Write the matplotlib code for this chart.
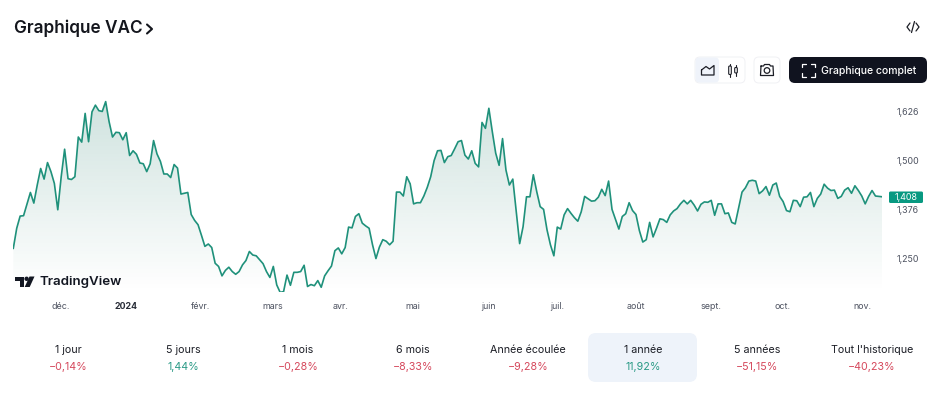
import numpy as np
import matplotlib
matplotlib.use("Agg")
import matplotlib.pyplot as plt
from matplotlib.patches import FancyBboxPatch, PathPatch, Polygon, Circle, Rectangle
from matplotlib.path import Path

plt.rcParams['font.family'] = ['Inter', 'DejaVu Sans']

W, H = 945, 393

prices = [
1277,1328,1359,1360,1390,1419,1392,1438,1480,1453,1495,1472,1442,1375,1459,1529,1454,1452,1459,1560,
1547,1620,1548,1624,1641,1627,1625,1650,1599,1560,1572,1571,1553,1571,1513,1525,1516,1494,1492,1472,
1492,1551,1517,1498,1466,1466,1457,1490,1481,1415,1417,1419,1363,1348,1337,1310,1282,1288,1279,1239,
1231,1207,1221,1229,1218,1211,1218,1235,1246,1269,1260,1258,1248,1238,1218,1203,1231,1184,1165,1167,
1209,1183,1216,1216,1218,1234,1180,1185,1182,1195,
1178,1207,1220,1232,1271,1278,1263,1279,1331,1329,1358,1365,1341,1334,1328,1286,1251,1280,1299,1295,
1286,1295,1420,1420,1410,1459,1441,1390,1393,1393,1410,1432,1459,1500,1525,1526,1495,1510,1513,1530,
1548,1551,1514,1504,1525,1493,1484,1597,1582,1633,1574,1519,1488,1556,1476,1438,1453,1370,1289,1332,
1408,1408,1464,1421,1383,1376,1324,1286,1258,1331,1326,1362,1378,1366,1355,1346,1370,1409,1403,1397,
1398,1407,1427,1411,1448,1376,1351,1326,1358,1365,1393,
1373,1363,1322,1293,1299,1343,1306,1328,1352,1350,1343,1362,1372,1378,1390,1399,1390,1399,1387,1372,
1389,1395,1394,1399,1361,1390,1390,1365,1367,1343,1339,1379,1420,1431,1448,1450,1448,1416,1423,1434,
1412,1438,1443,1409,1396,1373,1370,1399,1398,1383,1407,1408,1419,1383,1404,1415,1440,1430,1424,1425,
1404,1409,1425,1431,1417,1436,1424,1410,1390,1409,1424,1410,1409,1408]

price_ticks = [1626, 1500, 1376, 1250]
price_labels = ['1,626', '1,500', '1,376', '1,250']
last_price = 1408
last_label = '1,408'
month_labels = ['déc.', '2024', 'févr.', 'mars', 'avr.', 'mai', 'juin', 'juil.', 'août', 'sept.', 'oct.', 'nov.']
month_frac = [0.0549, 0.1297, 0.2160, 0.2988, 0.3771, 0.4600, 0.5463, 0.6257, 0.7166, 0.8029, 0.8857, 0.9766]
period_names = ['1 jour', '5 jours', '1 mois', '6 mois', 'Année écoulée', '1 année', '5 années', "Tout l'historique"]
period_changes = ['−0,14%', '1,44%', '−0,28%', '−8,33%', '−9,28%', '11,92%', '−51,15%', '−40,23%']

GREEN = '#1f917b'
GREEN_TXT = '#2a9a86'
RED = '#d5475b'
TXT = '#1c1e26'
AXT = '#4d5260'

fig = plt.figure(figsize=(W/100, H/100), dpi=100, facecolor='white')

# chart axes
L, R, T, B = 13.3, 882.3, 90, 292
ax = fig.add_axes([L/W, 1-B/H, (R-L)/W, (B-T)/H])
ax.set_facecolor('none')
y = np.array(prices, float)
x = np.arange(len(y))
ax.set_xlim(0, len(y)-1)
ax.set_ylim(1166, 1679.5)

top = y.max()
n = 256
alpha = np.linspace(0.20, 0, n)
grad = np.zeros((n, 1, 4))
grad[..., :3] = matplotlib.colors.to_rgb('#12735f')
grad[..., 3] = alpha[:, None]
im = ax.imshow(grad, extent=[0, len(y)-1, 1166, top], origin='upper', aspect='auto', zorder=1)
ax.set_xlim(0, len(y)-1)
ax.set_ylim(1166, 1679.5)
poly = Polygon(np.column_stack([np.r_[x, x[-1], 0], np.r_[y, 1166, 1166]]), closed=True, transform=ax.transData, fc='none', ec='none')
ax.add_patch(poly)
im.set_clip_path(poly)
ax.plot(x, y, color=GREEN, lw=1.2, solid_joinstyle='round', zorder=3)

for s in ax.spines.values():
    s.set_visible(False)
ax.yaxis.tick_right()
ax.set_yticks(price_ticks, price_labels)
ax.tick_params(axis='y', length=0, pad=10.5, labelsize=6.4, labelcolor=AXT)
ticks = [f*(len(y)-1) for f in month_frac]
ax.set_xticks(ticks, month_labels)
ax.tick_params(axis='x', length=0, pad=7.5, labelsize=6.4, labelcolor=AXT)
for lab in ax.get_xticklabels():
    if lab.get_text() == '2024':
        lab.set_fontweight('bold')
        lab.set_color('#2a2e39')

# overlay in pixel space
ov = fig.add_axes([0, 0, 1, 1], facecolor='none')
ov.set_xlim(0, W)
ov.set_ylim(H, 0)
ov.axis('off')

def rrect(x0, y0, x1, y1, r, fc, ec='none', lw=0, z=2):
    p = FancyBboxPatch((x0+r, y0+r), x1-x0-2*r, y1-y0-2*r, boxstyle=f'round,pad={r},rounding_size={r}',
                       fc=fc, ec=ec, lw=lw, zorder=z)
    ov.add_patch(p)

def stroke(pts, c='#1c1e26', lw=0.9, z=5):
    a = np.array(pts)
    ov.plot(a[:, 0], a[:, 1], color=c, lw=lw, zorder=z, solid_capstyle='round', solid_joinstyle='round')

# title
ov.text(13.5, 28, 'Graphique VAC', fontsize=12.4, fontweight='semibold', color='#14161d', va='center', ha='left')
stroke([(147, 24.5), (152, 29), (147, 33.5)], c='#14161d', lw=1.5)

# embed icon
stroke([(910, 23), (907, 27), (910, 31)], lw=0.9)
stroke([(916, 23), (919, 27), (916, 31)], lw=0.9)
stroke([(914.5, 21.5), (911.5, 32.5)], lw=0.9)

# button group
rrect(695, 57, 745, 83, 5, 'white', '#f0f1f4', 0.7)
rrect(695.5, 57.5, 719, 82.5, 4, '#eff3fa')
stroke([(701.5, 70), (706, 66.5), (709.5, 69), (714, 65.5), (714, 75), (701.5, 75), (701.5, 70)], lw=0.9)
for cx, a0, a1, b0, b1 in [(730, 63.5, 77, 66, 74.5), (736, 64.5, 76, 67.5, 73)]:
    stroke([(cx, a0), (cx, a1)], lw=0.8)
    ov.add_patch(FancyBboxPatch((cx-1.3, b0), 2.6, b1-b0, boxstyle='round,pad=0,rounding_size=1', fc='white', ec=TXT, lw=0.8, zorder=6))
rrect(754, 57, 780, 83, 5, 'white', '#f0f1f4', 0.7)
stroke([(761, 66), (763.5, 66), (764.5, 64.5), (769.5, 64.5), (770.5, 66), (773, 66), (773.5, 75.5), (760.5, 75.5), (761, 66)], lw=0.9)
ov.add_patch(Circle((767, 70.5), 2.8, fc='none', ec=TXT, lw=0.9, zorder=6))

# dark button
rrect(789, 57, 927, 83, 6, '#10131f')
W_ = 'white'
for (a, b, c) in [((802, 67), (802, 63.5), (806, 63.5)), ((811, 63.5), (815, 63.5), (815, 67)),
                  ((815, 73), (815, 76.5), (811, 76.5)), ((806, 76.5), (802, 76.5), (802, 73))]:
    stroke([a, b, c], c=W_, lw=0.9)
ov.text(868.5, 70.5, 'Graphique complet', fontsize=7.55, color='white', va='center', ha='center', fontweight='medium', zorder=6)

# price badge
rrect(889, 191.5, 923, 203, 1.5, '#089981', z=4)
ov.text(906, 197.2, last_label, fontsize=6.4, color='white', va='center', ha='center', zorder=6)

# TradingView logo
ov.add_patch(Polygon([(15, 276.5), (24, 276.5), (24, 287), (19.5, 287), (19.5, 281), (15, 281)], fc='#131722', ec='none', zorder=6))
ov.add_patch(Circle((26.6, 278.8), 2.2, fc='#131722', ec='none', zorder=6))
ov.add_patch(Polygon([(29.5, 276.5), (34.5, 276.5), (29.7, 287), (24.7, 287)], fc='#131722', ec='none', zorder=6))
ov.text(40, 281.5, 'TradingView', fontsize=9.6, fontweight='semibold', color='#131722', va='center', ha='left', zorder=6)

# periods
rrect(588, 333, 697, 382, 8, '#eef3fa', z=1)
centers = [68, 183, 298, 413, 528, 643, 757, 872]
for cx, name, chg in zip(centers, period_names, period_changes):
    ov.text(cx, 350.3, name, fontsize=7.7, color=TXT, va='center', ha='center')
    col = RED if chg.startswith('−') else GREEN_TXT
    ov.text(cx, 366.5, chg, fontsize=7.7, color=col, va='center', ha='center')

# dark edge column at the far right of the image
ov.add_patch(Rectangle((944, 0), 1, H, fc='#111111', ec='none', zorder=8))

fig.savefig('out.png', dpi=100, facecolor='white')
